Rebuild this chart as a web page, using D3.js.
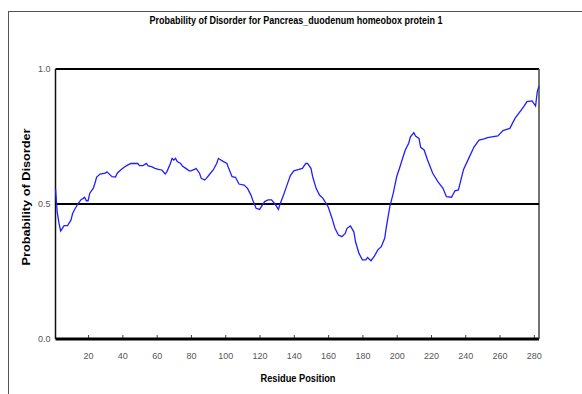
<!DOCTYPE html>
<meta charset="utf-8">
<title>Probability of Disorder</title>
<style>
  body { margin: 0; background: #fff; }
  text { font-family: "Liberation Sans", Arial, sans-serif; }
</style>
<body>
<div id="chart"></div>
<script src="https://cdn.jsdelivr.net/npm/d3@7"></script>
<script>

// residue positions and disorder probability
var residues = [1, 2, 3, 4, 5, 6, 8, 9, 10, 11, 12, 14, 16, 17, 18, 19, 20, 21, 23, 24,
  25, 27, 30, 31, 33, 34, 36, 37, 39, 41, 43, 45, 49, 50, 52, 54, 55, 57, 59, 61,
  63, 65, 66, 68, 69, 70, 71, 72, 74, 75, 77, 79, 80, 82, 83, 85, 86, 88, 89, 91,
  93, 95, 96, 97, 99, 101, 102, 104, 106, 108, 111, 113, 115, 116, 118, 120, 123, 125, 127, 129,
  131, 132, 134, 136, 138, 140, 143, 145, 147, 148, 150, 151, 153, 155, 157, 160, 162, 164, 166, 168,
  170, 171, 173, 175, 176, 178, 180, 182, 183, 185, 187, 189, 191, 193, 194, 196, 198, 200, 202, 205,
  207, 208, 210, 211, 213, 214, 216, 218, 221, 224, 227, 229, 232, 234, 236, 239, 242, 245, 248, 251,
  253, 259, 262, 266, 269, 274, 276, 279, 281, 282, 283];
var disorder = [0.556, 0.47, 0.43, 0.40, 0.41, 0.42, 0.42, 0.43, 0.44, 0.465, 0.478, 0.50, 0.517, 0.52, 0.525, 0.512, 0.512, 0.54, 0.558, 0.577,
  0.60, 0.611, 0.614, 0.619, 0.607, 0.601, 0.60, 0.614, 0.626, 0.636, 0.644, 0.65, 0.65, 0.642, 0.642, 0.65, 0.641, 0.638, 0.632, 0.628,
  0.626, 0.611, 0.62, 0.65, 0.669, 0.663, 0.669, 0.657, 0.65, 0.641, 0.632, 0.623, 0.623, 0.628, 0.632, 0.614, 0.595, 0.589, 0.595, 0.611,
  0.626, 0.65, 0.669, 0.665, 0.657, 0.65, 0.632, 0.601, 0.599, 0.574, 0.57, 0.558, 0.533, 0.515, 0.484, 0.48, 0.509, 0.515, 0.515, 0.50,
  0.48, 0.50, 0.533, 0.57, 0.605, 0.623, 0.628, 0.632, 0.65, 0.65, 0.632, 0.601, 0.558, 0.533, 0.521, 0.49, 0.453, 0.41, 0.385, 0.379,
  0.391, 0.41, 0.419, 0.397, 0.36, 0.317, 0.293, 0.293, 0.302, 0.29, 0.307, 0.33, 0.342, 0.373, 0.416, 0.49, 0.54, 0.601, 0.64, 0.70,
  0.725, 0.749, 0.764, 0.752, 0.743, 0.71, 0.70, 0.663, 0.614, 0.583, 0.558, 0.527, 0.525, 0.549, 0.552, 0.628, 0.669, 0.71, 0.737, 0.741,
  0.746, 0.752, 0.772, 0.78, 0.817, 0.86, 0.879, 0.882, 0.863, 0.916, 0.937];

var xTicks = [20, 40, 60, 80, 100, 120, 140, 160, 180, 200, 220, 240, 260, 280];
var yTicks = [0, 0.5, 1.0];

var title = "Probability of Disorder for Pancreas_duodenum homeobox protein 1";

var W = 582, H = 394;
var margin = {top: 69, right: 43, bottom: 55, left: 55.5},
    width = W - margin.left - margin.right,
    height = H - margin.top - margin.bottom;

var root = d3.select("#chart")
  .append("svg")
    .attr("width", W)
    .attr("height", H);

// outer frame
root.append("rect")
    .attr("x", 8.5).attr("y", 11.5)
    .attr("width", 700).attr("height", 500)
    .attr("fill", "none")
    .attr("stroke", "#555")
    .attr("stroke-width", 1);

root.append("text")
    .attr("x", 296).attr("y", 24)
    .attr("text-anchor", "middle")
    .attr("font-size", 11)
    .attr("font-weight", "bold")
    .attr("textLength", 293)
    .attr("lengthAdjust", "spacingAndGlyphs")
    .text(title);

var svg = root.append("g")
    .attr("transform", "translate(" + margin.left + "," + margin.top + ")");

var x = d3.scaleLinear().domain([1, 283]).range([0, width]);
var y = d3.scaleLinear().domain([0, 1]).range([height, 0]);

// x axis, ticks pointing inward
var xAxis = svg.append("g")
    .attr("transform", "translate(0," + height + ")")
    .call(d3.axisBottom(x).tickValues(xTicks).tickSize(-4).tickPadding(14));
xAxis.select(".domain").remove();
xAxis.selectAll("line").attr("stroke", "#444");
xAxis.selectAll("text").attr("fill", "#555").attr("font-size", 9)
    .attr("font-family", "'Liberation Sans Narrow', 'Liberation Sans', sans-serif");

var yAxis = svg.append("g")
    .call(d3.axisLeft(y).tickValues(yTicks).tickSize(0).tickPadding(5).tickFormat(d3.format(".1f")));
yAxis.select(".domain").remove();
yAxis.selectAll("text").attr("fill", "#555").attr("font-size", 9);

// plot frame
svg.append("line").attr("x1", 0).attr("x2", width).attr("y1", 0).attr("y2", 0)
    .attr("stroke", "#000").attr("stroke-width", 2);
svg.append("line").attr("x1", 0).attr("x2", width).attr("y1", height).attr("y2", height)
    .attr("stroke", "#000").attr("stroke-width", 3);
svg.append("line").attr("x1", 0).attr("x2", 0).attr("y1", 0).attr("y2", height)
    .attr("stroke", "#111").attr("stroke-width", 1.5);
svg.append("line").attr("x1", width).attr("x2", width).attr("y1", 0).attr("y2", height)
    .attr("stroke", "#444").attr("stroke-width", 1.5);

// 0.5 threshold
svg.append("line").attr("x1", 0).attr("x2", width).attr("y1", y(0.5)).attr("y2", y(0.5))
    .attr("stroke", "#000").attr("stroke-width", 2);

var line = d3.line()
    .x(function(d, i) { return x(residues[i]); })
    .y(function(d) { return y(d); });

svg.append("path")
    .datum(disorder)
    .attr("fill", "none")
    .attr("stroke", "#1f1fff")
    .attr("stroke-width", 1.3)
    .attr("d", line);

// axis titles
root.append("text")
    .attr("x", 298).attr("y", 382)
    .attr("text-anchor", "middle")
    .attr("font-size", 11)
    .attr("font-weight", "bold")
    .attr("textLength", 75)
    .attr("lengthAdjust", "spacingAndGlyphs")
    .text("Residue Position");

root.append("text")
    .attr("transform", "translate(30,197) rotate(-90)")
    .attr("text-anchor", "middle")
    .attr("font-size", 11)
    .attr("font-weight", "bold")
    .attr("textLength", 137)
    .attr("lengthAdjust", "spacingAndGlyphs")
    .text("Probability of Disorder");

</script>
</body>
